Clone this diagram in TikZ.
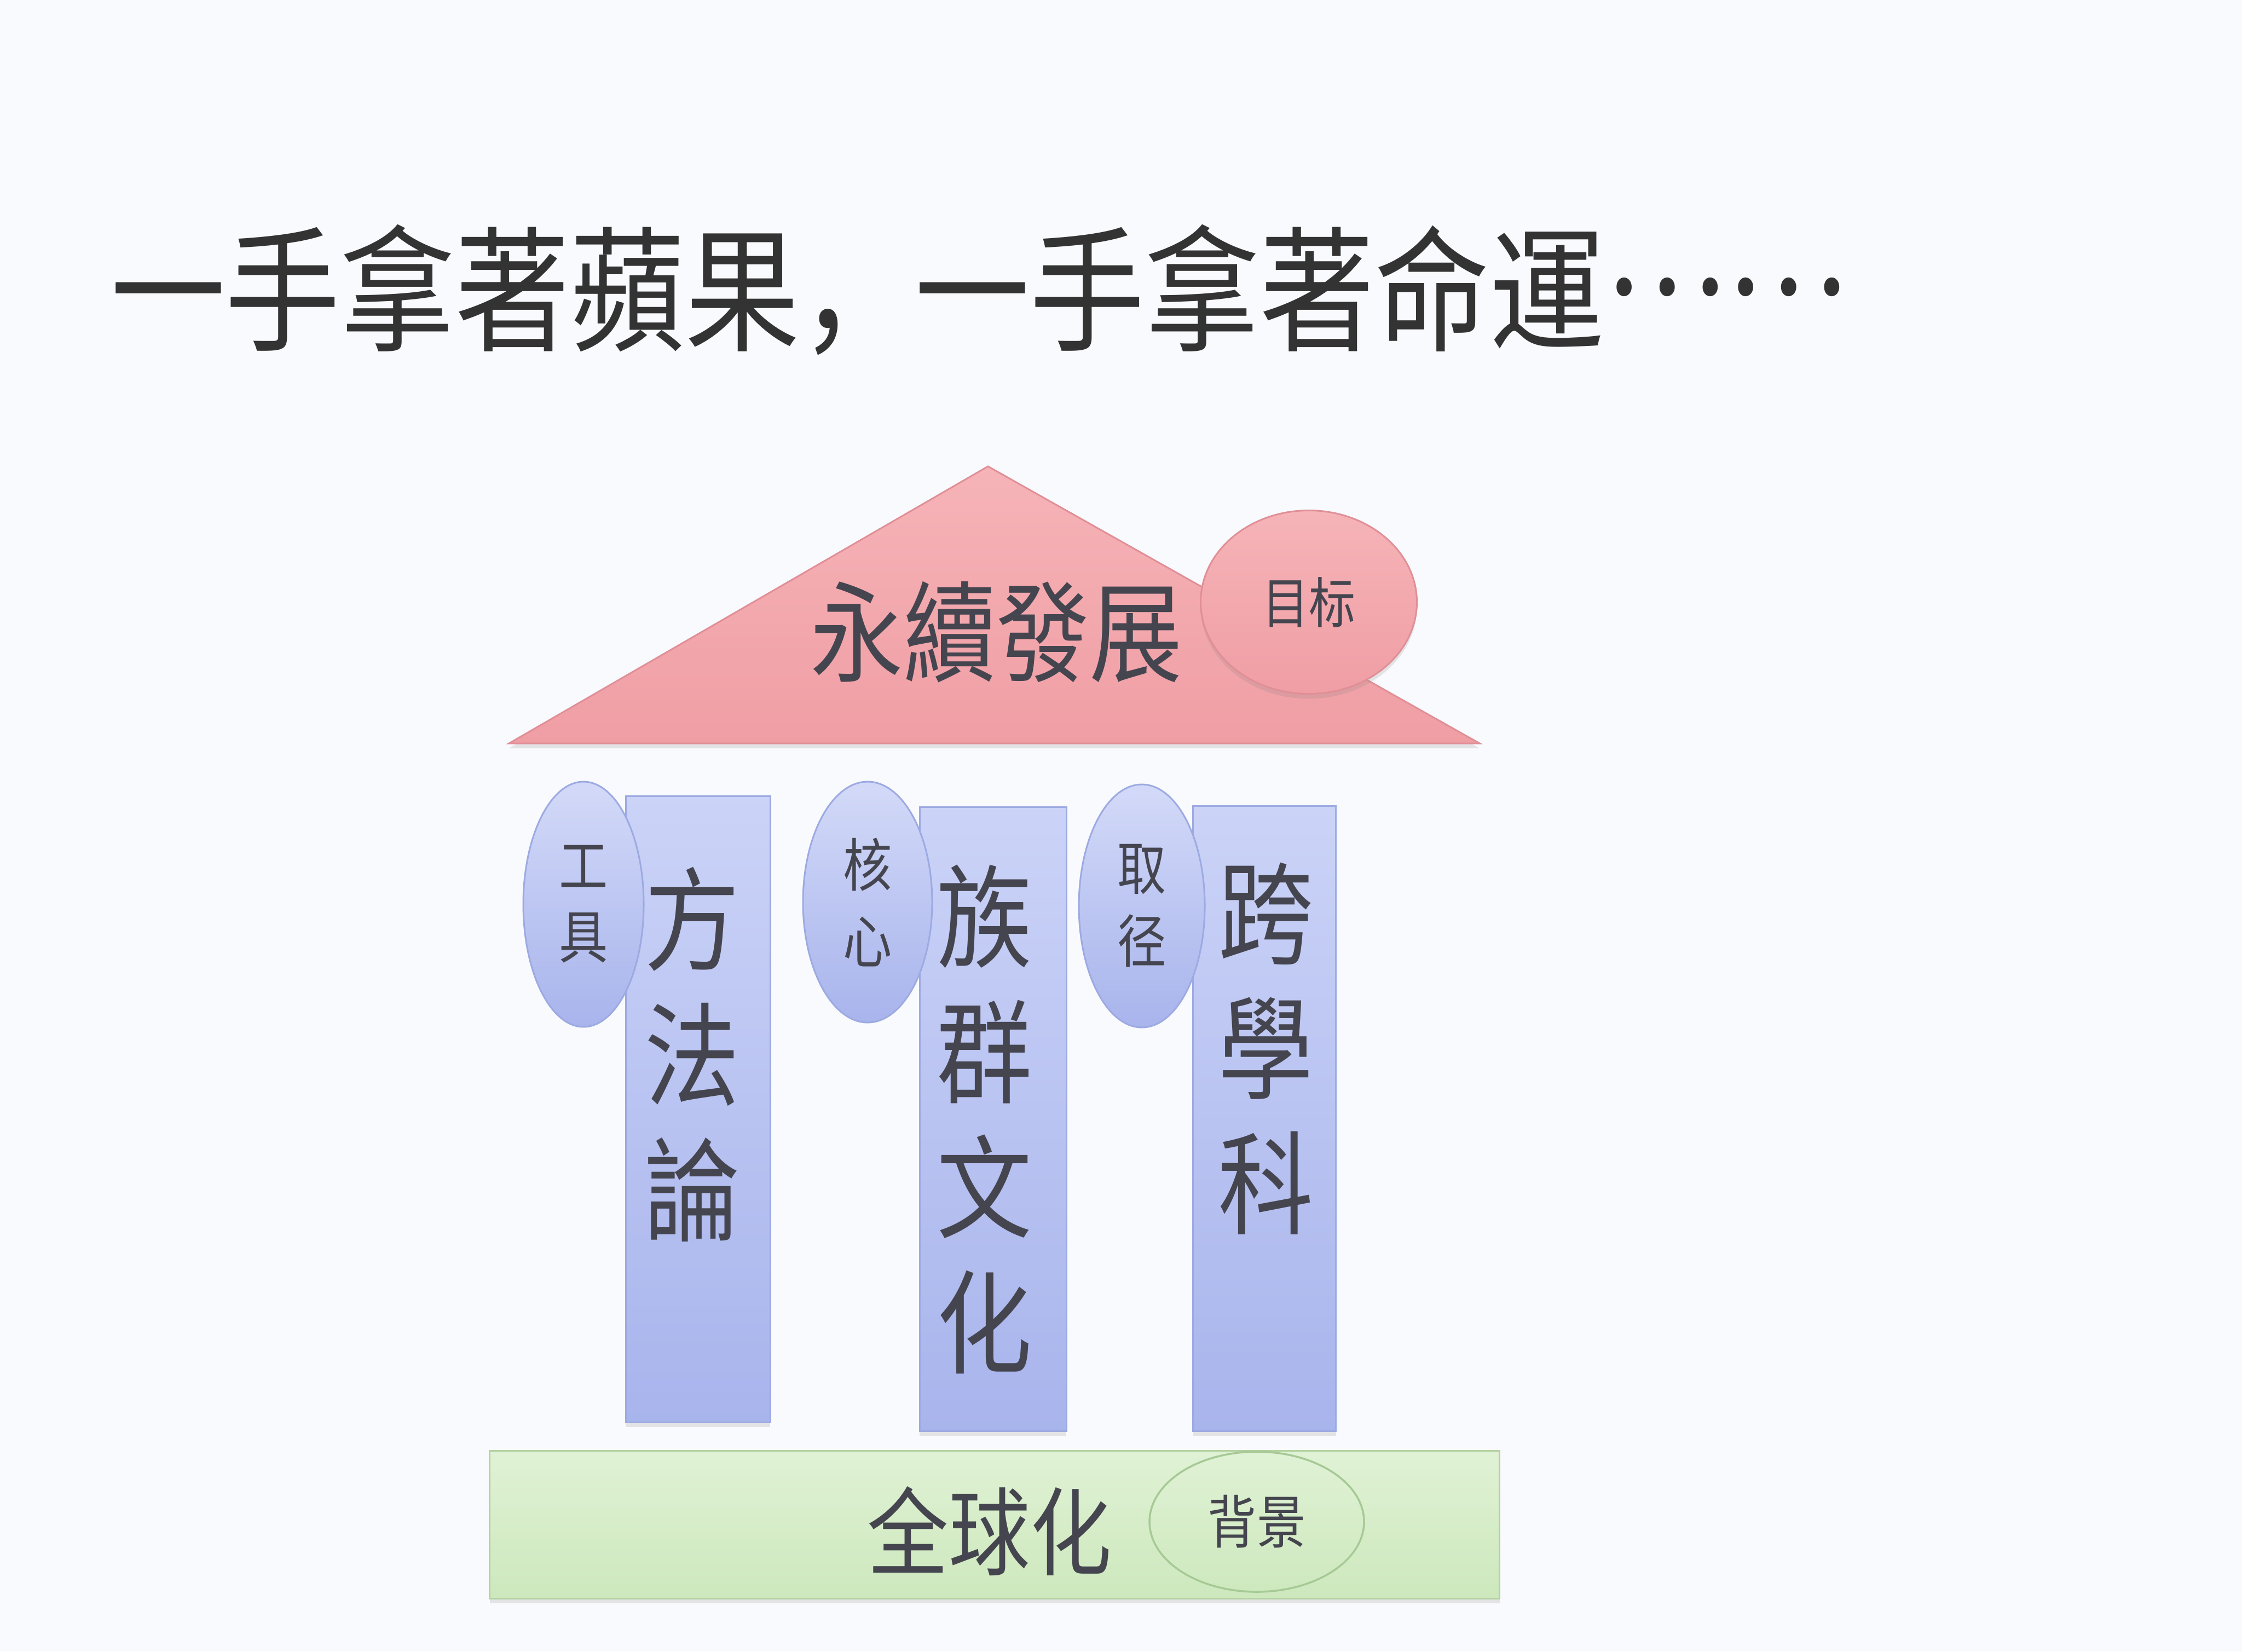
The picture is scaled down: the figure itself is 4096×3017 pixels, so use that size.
\documentclass[tikz,border=0pt]{standalone}
\usepackage{fontspec}
\newfontfamily\cjk[FakeStretch=0.85]{Noto Sans CJK SC}
\usetikzlibrary{shapes.geometric,shadows}
\definecolor{bg}{HTML}{F9FAFD}
\definecolor{titlecol}{HTML}{333333}
\definecolor{txtcol}{HTML}{45454F}
\definecolor{roofA}{HTML}{F6B4B8}
\definecolor{roofB}{HTML}{EF9EA4}
\definecolor{roofline}{HTML}{E08F97}
\definecolor{colA}{HTML}{CBD3F7}
\definecolor{colB}{HTML}{A8B4EC}
\definecolor{colline}{HTML}{9DAAE2}
\definecolor{baseA}{HTML}{E0F2D5}
\definecolor{baseB}{HTML}{CDE8BD}
\definecolor{baseline}{HTML}{B3D2A1}
\definecolor{ellgreen}{HTML}{A6C996}
\tikzset{
  softshadow/.style={drop shadow={opacity=0.18, shadow xshift=0pt, shadow yshift=-0.9pt}},
  pillar/.style={rectangle, draw=colline, line width=0.3pt, top color=colA, bottom color=colB, inner sep=0pt, softshadow},
  blueell/.style={ellipse, draw=colline, line width=0.3pt, top color=colA!85!white, bottom color=colB, inner sep=0pt, align=center, font=\cjk\fontsize{10.5}{13}\selectfont, text=txtcol},
  pinkell/.style={ellipse, draw=roofline, line width=0.3pt, top color=roofA, bottom color=roofB, inner sep=0pt, font=\cjk\fontsize{10}{12}\selectfont, text=txtcol, softshadow},
  greenell/.style={ellipse, draw=ellgreen, line width=0.35pt, inner sep=0pt, font=\cjk\fontsize{10.5}{12}\selectfont, text=txtcol},
  basebar/.style={rectangle, draw=baseline, line width=0.3pt, top color=baseA, bottom color=baseB, inner sep=0pt, softshadow},
  bigtxt/.style={inner sep=0pt, align=center, text=txtcol},
}
\begin{document}
\begin{tikzpicture}[x=0.1pt,y=-0.1pt]
\fill[bg] (0,0) rectangle (4096,3017);
\useasboundingbox (0,0) rectangle (4096,3017);

% title
\node[anchor=west, inner sep=0pt, text=titlecol, font=\cjk\fontsize{24.7}{28}\selectfont] (title) at (200,530) {一手拿著蘋果，一手拿著命運\raisebox{8.5pt}{……}};

% roof
\coordinate (rl) at (930,1358);
\coordinate (ra) at (1805,852);
\coordinate (rr) at (2703,1358);
\path[draw=roofline, line width=0.3pt, top color=roofA, bottom color=roofB, softshadow] (rl) -- (ra) -- (rr) -- cycle;
\node[pinkell, minimum width=39.5pt, minimum height=33.5pt] (goal) at (2391,1100) {目标};
\node[bigtxt, font=\cjk\fontsize{20}{24}\selectfont] (roofTxt) at (1820,1155) {永續發展};

% pillars
\node[pillar, minimum width=26.4pt, minimum height=114.4pt] (col1) at (1275,2026) {};
\node[pillar, minimum width=26.8pt, minimum height=114pt] (col2) at (1814,2044) {};
\node[pillar, minimum width=26.1pt, minimum height=114.2pt] (col3) at (2310,2043) {};

\node[blueell, minimum width=22pt, minimum height=44.8pt] (e1) at (1066,1652) {工\\具};
\node[blueell, minimum width=23.6pt, minimum height=44pt, font=\cjk\fontsize{10.5}{14}\selectfont] (e2) at (1585,1648) {核\\心};
\node[blueell, minimum width=23pt, minimum height=44.4pt, font=\cjk\fontsize{10.5}{13.3}\selectfont] (e3) at (2086,1655) {取\\径};

\node[bigtxt, font=\cjk\fontsize{20.5}{24.7}\selectfont] (t1) at (1265,1926) {方\\法\\論};
\node[bigtxt, font=\cjk\fontsize{20.5}{24.7}\selectfont] (t2) at (1799,2045) {族\\群\\文\\化};
\node[bigtxt, font=\cjk\fontsize{20.5}{24.7}\selectfont] (t3) at (2313,1916) {跨\\學\\科};

% base
\node[basebar, minimum width=184.5pt, minimum height=27pt] (base) at (1817,2785) {};
\node[greenell, minimum width=39.2pt, minimum height=25.6pt] (bg) at (2296,2780) {背景};
\node[bigtxt, font=\cjk\fontsize{17.5}{20}\selectfont] (baseTxt) at (1808,2797) {全球化};
\end{tikzpicture}
\end{document}
